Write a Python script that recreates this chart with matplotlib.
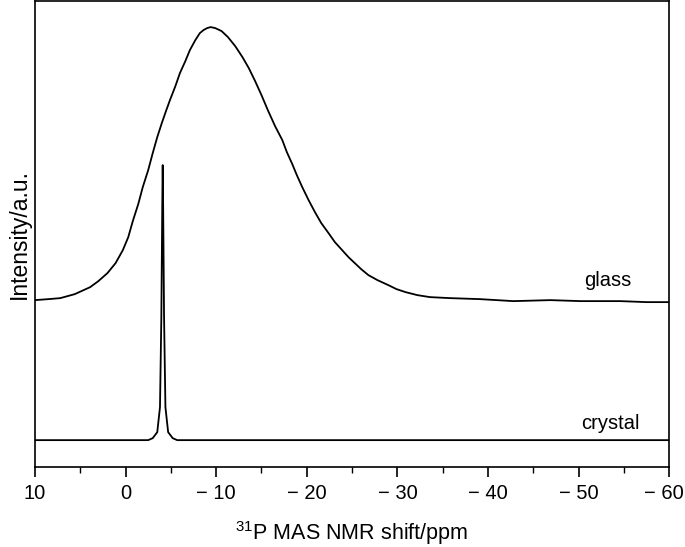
import matplotlib
matplotlib.use("Agg")
import matplotlib.pyplot as plt
import matplotlib.transforms as mtransforms
from matplotlib.ticker import FixedLocator, MultipleLocator

plt.rcParams["font.family"] = ["Liberation Sans", "DejaVu Sans"]
plt.rcParams["mathtext.fontset"] = "custom"
plt.rcParams["mathtext.rm"] = "Liberation Sans"
plt.rcParams["mathtext.default"] = "regular"

# glass spectrum (ppm, intensity in arbitrary units)
glass_ppm = [10.0, 8.5, 7.2, 5.6, 3.9, 3.0, 2.0, 1.1, 0.3, -0.3, -0.8,
             -1.4, -1.9, -2.5, -3.0, -3.5, -4.0, -4.5, -4.9, -5.5,
             -6.0, -6.6, -7.1, -7.7, -8.2, -8.6, -9.0, -9.4, -9.9,
             -10.6, -11.3, -12.1, -12.9, -13.6, -14.3, -15.0, -15.7,
             -16.5, -17.3, -17.8, -18.4, -18.9, -19.5, -20.2, -20.9,
             -21.6, -22.4, -23.1, -23.9, -24.6, -25.3, -26.0, -26.8,
             -27.8, -29.0, -29.9, -30.9, -32.2, -33.6, -35.8, -39.1,
             -42.8, -46.9, -50.2, -54.6, -57.5, -60.0]
glass_int = [167, 168, 169, 173, 180, 186, 194, 204, 217, 230, 246,
             263, 280, 297, 314, 330, 344, 357, 367, 381,
             394, 406, 417, 427, 434, 437, 439, 440, 439,
             436, 430, 421, 410, 399, 386, 372, 357,
             341, 327, 315, 303, 292, 280, 267, 255,
             244, 234, 225, 217, 210, 204, 198, 192,
             187, 182, 178, 175, 172, 170, 169, 168,
             166, 167, 166, 166, 165, 165]

# crystal spectrum
crystal_ppm = [10.0, 0.0, -2.5, -3.0, -3.5, -3.8, -3.95, -4.05, -4.1,
               -4.15, -4.25, -4.4, -4.7, -5.2, -5.7, -20.0, -40.0, -60.0]
crystal_int = [27, 27, 27, 29, 35, 60, 150, 260, 302,
               260, 150, 60, 35, 29, 27, 27, 27, 27]

xticks = [10, 0, -10, -20, -30, -40, -50, -60]
xtick_labels = ["10", "0", "\u2212 10", "\u2212 20", "\u2212 30",
                "\u2212 40", "\u2212 50", "\u2212 60"]

fig = plt.figure(figsize=(6.85, 5.47), dpi=100)
ax = fig.add_axes([0.051, 0.146, 0.926, 0.852])

ax.plot(glass_ppm, glass_int, color="black", linewidth=1.3)
ax.plot(crystal_ppm, crystal_int, color="black", linewidth=1.3)

ax.text(-53.2, 187, "glass", fontsize=14.5, ha="center", va="center")
ax.text(-53.5, 44, "crystal", fontsize=14.5, ha="center", va="center")

ax.set_xlim(10, -60)
ax.set_ylim(0, 466)

ax.xaxis.set_major_locator(FixedLocator(xticks))
ax.set_xticklabels(xtick_labels)
ax.xaxis.set_minor_locator(MultipleLocator(5))
ax.set_yticks([])
ax.tick_params(axis="x", which="major", direction="out", length=7,
               width=1.2, labelsize=14.5, pad=5)
ax.tick_params(axis="x", which="minor", direction="out", length=4, width=1.0)

# nudge the last tick label left so it stays inside the figure
shift = mtransforms.ScaledTranslation(-5 / 100, 0, fig.dpi_scale_trans)
last = ax.get_xticklabels()[-1]
last.set_transform(last.get_transform() + shift)

for s in ax.spines.values():
    s.set_linewidth(1.2)

ax.set_xlabel(r"$^{31}$P MAS NMR shift/ppm", fontsize=15.5, labelpad=12)
ax.set_ylabel("Intensity/a.u.", fontsize=16.5, labelpad=3)

fig.savefig("out.png", dpi=100)
